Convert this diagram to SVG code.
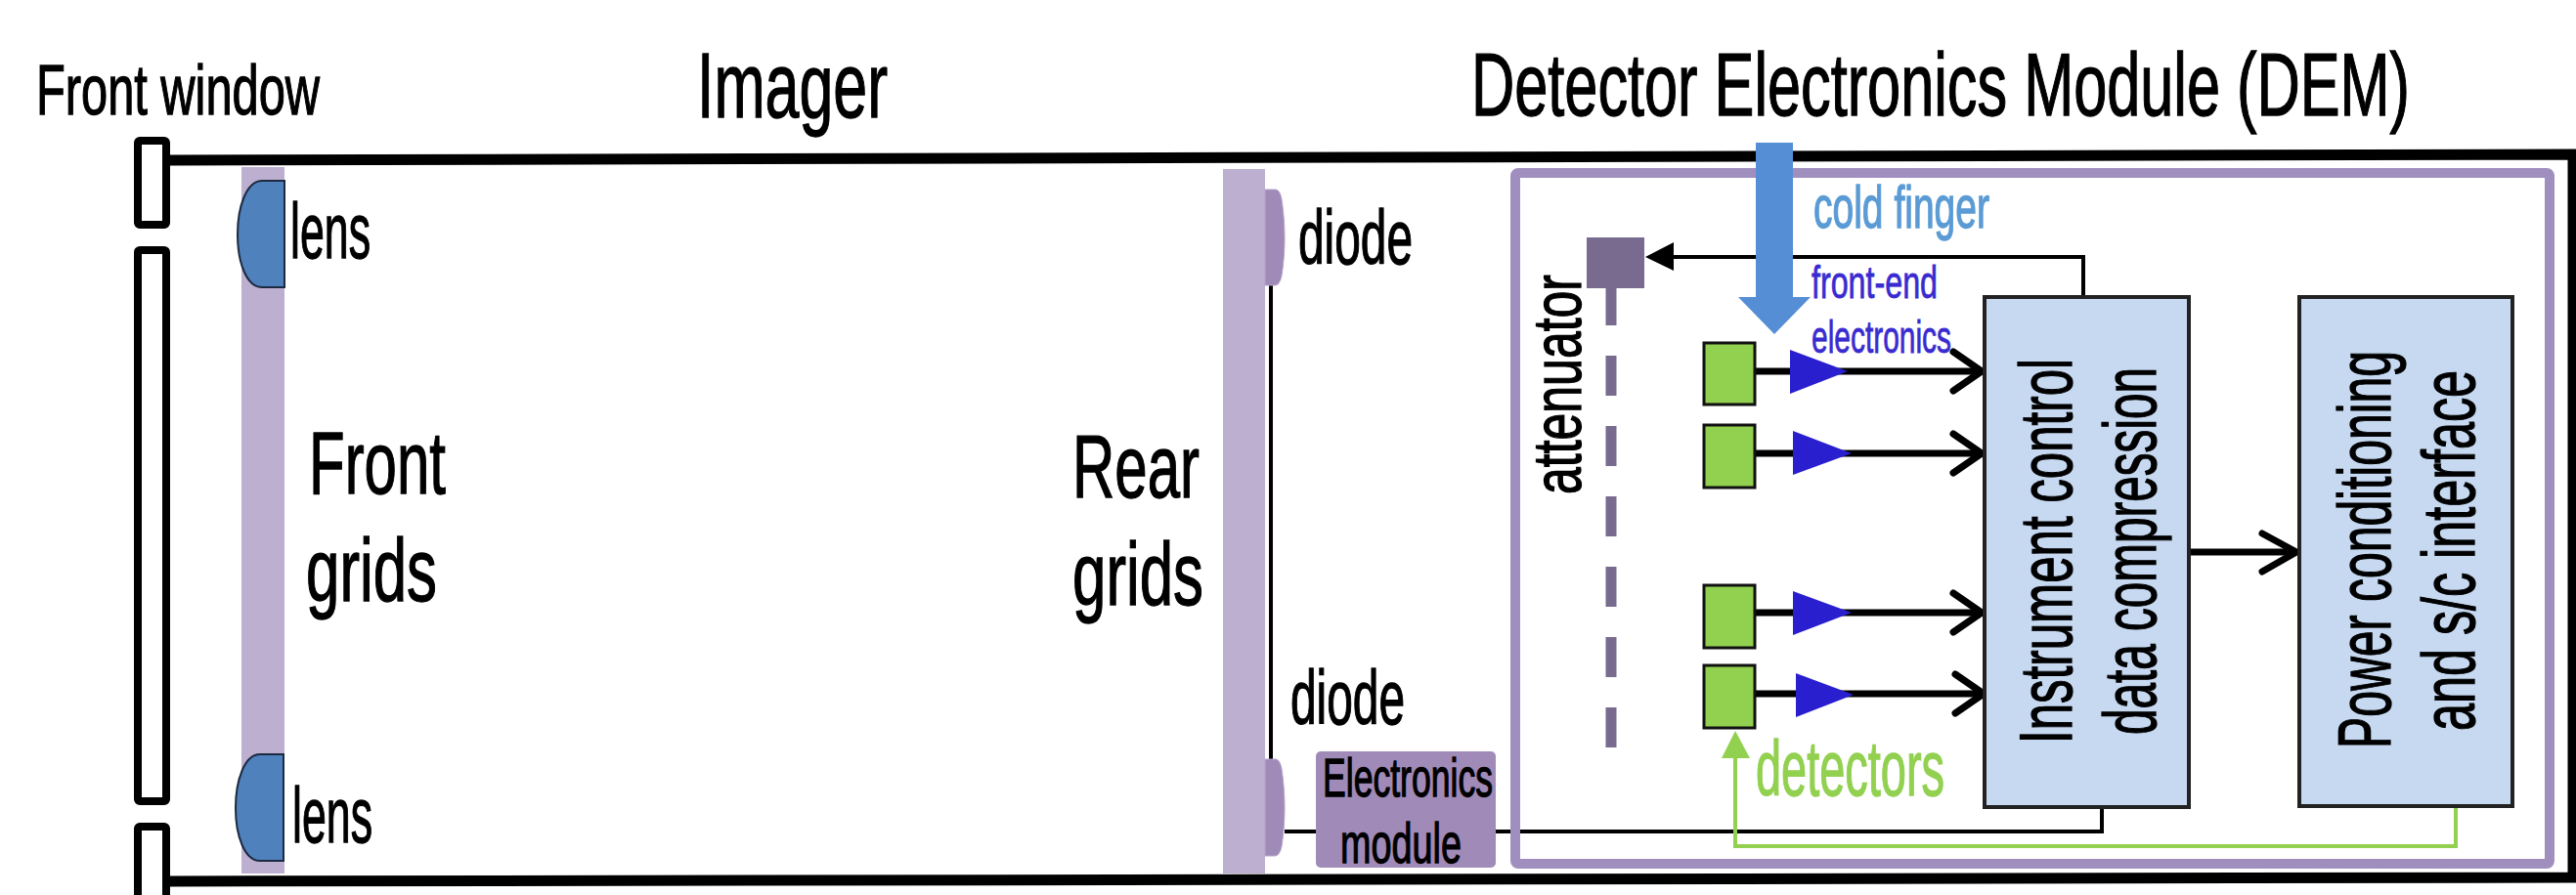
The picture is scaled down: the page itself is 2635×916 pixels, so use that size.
<svg xmlns="http://www.w3.org/2000/svg" width="2635" height="916" viewBox="0 0 2635 916">
<style>
text{font-family:"Liberation Sans",Arial,sans-serif;fill:#000;stroke:#000;stroke-width:1.3}
.cf{fill:#5B9BD5;stroke:#5B9BD5}
.fe{fill:#3A2BD0;stroke:#3A2BD0;stroke-width:.8}
.dl{fill:#92D050;stroke:#92D050}
.win{fill:#fff;stroke:#000;stroke-width:8}
.grid{fill:#BDAFD0}
.lens{fill:#4F81BD;stroke:#1c2a40;stroke-width:2}
.diode{fill:#A08AB8;stroke:#B5A5CA;stroke-width:1}
.det{fill:#92D050;stroke:#111;stroke-width:3}
.amp{fill:#2A1FCF}
.blk{fill:#C6D9F1;stroke:#222;stroke-width:4}
.thin{fill:none;stroke:#000;stroke-width:4}
.sig{fill:none;stroke:#000;stroke-width:7}
.open{fill:none;stroke:#000;stroke-width:7;stroke-linecap:round;stroke-linejoin:round}
</style>
<g id="housing"><path d="M174 164L2632 158V898L174 902" fill="none" stroke="#000" stroke-width="11"/></g>
<g id="front-window">
<rect class="win" x="141" y="144" width="29" height="86" rx="2"/>
<rect class="win" x="141" y="256" width="29" height="564" rx="2"/>
<rect class="win" x="141" y="846" width="29" height="80" rx="2"/>
<text x="37" y="117" font-size="72" textLength="290" lengthAdjust="spacingAndGlyphs">Front window</text>
</g>
<g id="imager-title"><text x="713" y="120" font-size="94" textLength="195" lengthAdjust="spacingAndGlyphs">Imager</text></g>
<g id="dem-title"><text transform="translate(1505 118) scale(.75 1)" font-size="90" textLength="1280" lengthAdjust="spacingAndGlyphs">Detector Electronics Module (DEM)</text></g>
<g id="front-grids">
<rect class="grid" x="247" y="171" width="44" height="723"/>
<text x="316" y="505" font-size="90" textLength="140" lengthAdjust="spacingAndGlyphs">Front</text>
<text x="313" y="615" font-size="90" textLength="134" lengthAdjust="spacingAndGlyphs">grids</text>
</g>
<g id="lens-top">
<path class="lens" d="M291 185H268C252 185 243 212 243 240C243 268 252 294 268 294H291Z"/>
<text x="297" y="264" font-size="80" textLength="82" lengthAdjust="spacingAndGlyphs">lens</text>
</g>
<g id="lens-bottom">
<path class="lens" d="M290 772H266C250 772 241 799 241 827C241 855 250 881 266 881H290Z"/>
<text x="299" y="862" font-size="80" textLength="82" lengthAdjust="spacingAndGlyphs">lens</text>
</g>
<g id="rear-grids">
<rect class="grid" x="1251" y="173" width="43" height="721"/>
<text x="1097" y="509" font-size="90" textLength="130" lengthAdjust="spacingAndGlyphs">Rear</text>
<text x="1097" y="619" font-size="90" textLength="134" lengthAdjust="spacingAndGlyphs">grids</text>
</g>
<g id="connectors">
<path class="thin" d="M1300 292V777"/>
<path class="thin" d="M1314 851H1346"/>
<path class="thin" d="M1530 851H2150V826"/>
<path d="M2512 826V866H1775V774" fill="none" stroke="#92D050" stroke-width="4"/>
<path d="M1775 748L1790 776H1761Z" fill="#92D050"/>
<path class="thin" d="M2131 304V263H1705"/>
<path d="M1683 263L1712 248V277Z" fill="#000"/>
<path d="M1648 292V766" fill="none" stroke="#786B8F" stroke-width="11" stroke-dasharray="41 31"/>
<path class="sig" d="M1795 380H2025M1795 464H2025M1795 627H2025M1795 710H2027"/>
<path class="open" d="M1998 360L2027 380L1998 400M1998 444L2027 464L1998 484M1998 607L2027 627L1998 647M2000 690L2029 710L2000 730"/>
<path class="sig" d="M2239 565H2346"/>
<path class="open" d="M2314 546L2349 565L2314 585"/>
</g>
<g id="dem-frame"><rect x="1550" y="177" width="1058" height="707" rx="3" fill="none" stroke="#A08FBE" stroke-width="10"/></g>
<g id="diode-top">
<path class="diode" d="M1294 194H1305Q1309 194 1311 204C1315 230 1315 258 1311 282Q1309 292 1304 292H1294Z"/>
<text x="1328" y="270" font-size="78" textLength="117" lengthAdjust="spacingAndGlyphs">diode</text>
</g>
<g id="diode-bottom">
<path class="diode" d="M1294 777H1305Q1309 777 1311 787C1315 813 1315 841 1311 866Q1309 876 1304 876H1294Z"/>
<text x="1320" y="741" font-size="78" textLength="117" lengthAdjust="spacingAndGlyphs">diode</text>
</g>
<g id="electronics-module">
<rect x="1346" y="769" width="184" height="119" rx="5" fill="#A08AB8"/>
<text x="1353" y="815" font-size="55" textLength="174" lengthAdjust="spacingAndGlyphs">Electronics</text>
<text x="1371" y="883" font-size="58" textLength="124" lengthAdjust="spacingAndGlyphs">module</text>
</g>
<g id="attenuator">
<rect x="1623" y="243" width="59" height="52" fill="#786B8F"/>
<text transform="translate(1617 506) rotate(-90)" font-size="70" textLength="225" lengthAdjust="spacingAndGlyphs">attenuator</text>
</g>
<g id="cold-finger">
<path d="M1796 146H1834V304H1852L1815 342L1778 304H1796Z" fill="#558ED5"/>
<text class="cf" x="1855" y="233" font-size="62" textLength="180" lengthAdjust="spacingAndGlyphs">cold finger</text>
</g>
<g id="detector-1"><rect class="det" x="1743" y="351" width="52" height="63"/><path class="amp" d="M1831 358L1890 380L1831 403Z"/></g>
<g id="detector-2"><rect class="det" x="1743" y="435" width="52" height="64"/><path class="amp" d="M1834 441L1894 464L1834 486Z"/></g>
<g id="detector-3"><rect class="det" x="1743" y="599" width="52" height="64"/><path class="amp" d="M1834 605L1894 627L1834 650Z"/></g>
<g id="detector-4"><rect class="det" x="1743" y="681" width="52" height="64"/><path class="amp" d="M1837 689L1896 711L1837 734Z"/></g>
<g id="front-end-label">
<text class="fe" x="1853" y="305" font-size="47" textLength="129" lengthAdjust="spacingAndGlyphs">front-end</text>
<text class="fe" x="1853" y="361" font-size="47" textLength="143" lengthAdjust="spacingAndGlyphs">electronics</text>
</g>
<g id="detectors-label"><text class="dl" x="1796" y="814" font-size="80" textLength="193" lengthAdjust="spacingAndGlyphs">detectors</text></g>
<g id="instrument-control">
<rect class="blk" x="2030" y="304" width="209" height="522"/>
<text transform="translate(2119 761) rotate(-90)" font-size="76" textLength="394" lengthAdjust="spacingAndGlyphs">Instrument control</text>
<text transform="translate(2205 752) rotate(-90)" font-size="76" textLength="376" lengthAdjust="spacingAndGlyphs">data compression</text>
</g>
<g id="power-conditioning">
<rect class="blk" x="2352" y="304" width="218" height="521"/>
<text transform="translate(2445 766) rotate(-90)" font-size="76" textLength="407" lengthAdjust="spacingAndGlyphs">Power conditioning</text>
<text transform="translate(2531 748) rotate(-90)" font-size="76" textLength="369" lengthAdjust="spacingAndGlyphs">and s/c interface</text>
</g>
</svg>
